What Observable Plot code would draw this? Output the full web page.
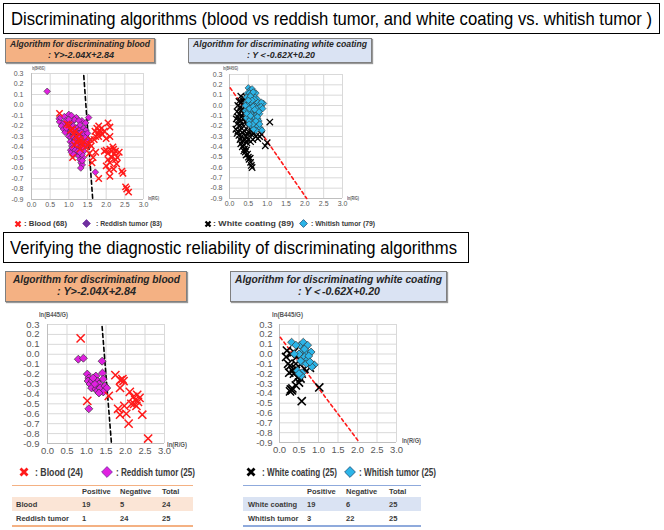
<!DOCTYPE html>
<html><head><meta charset="utf-8">
<script src="https://cdn.jsdelivr.net/npm/d3@7"></script>
<script src="https://cdn.jsdelivr.net/npm/@observablehq/plot@0.6"></script>
<style>
body{margin:0;background:#fff;}
#page{position:relative;width:664px;height:530px;overflow:hidden;font-family:"Liberation Sans",Arial,sans-serif;}
.t{position:absolute;white-space:nowrap;transform-origin:0 50%;}
.b{position:absolute;box-sizing:border-box;}
</style></head><body><div id="page"></div>
<script>
// ---------- DATA ----------
const xTicks = [0, 0.5, 1, 1.5, 2, 2.5, 3];
const yTicks = [0.3, 0.2, 0.1, 0, -0.1, -0.2, -0.3, -0.4, -0.5, -0.6, -0.7, -0.8, -0.9];

// Training set: blood (68) vs reddish tumor (83)
const bloodTrain = [
 [0.75,-0.08],[0.95,-0.18],[1.0,-0.19],[1.05,-0.24],[1.1,-0.23],[1.13,-0.28],[1.17,-0.25],[1.2,-0.3],[1.25,-0.33],[1.28,-0.28],
 [1.32,-0.34],[1.36,-0.38],[1.4,-0.35],[1.45,-0.4],[1.5,-0.38],[1.55,-0.37],[1.6,-0.39],[1.58,-0.33],[1.15,-0.38],[1.22,-0.36],
 [1.1,-0.5],[1.3,-0.42],
 [1.7,-0.25],[1.75,-0.22],[1.78,-0.27],[1.8,-0.2],[1.82,-0.24],[1.85,-0.26],[1.88,-0.22],[1.9,-0.28],[1.8,-0.3],[1.72,-0.3],
 [1.95,-0.25],[2.05,-0.17],[2.1,-0.21],[2.1,-0.3],[1.68,-0.33],[2.0,-0.32],
 [1.55,-0.46],[1.65,-0.5],[1.72,-0.45],[1.8,-0.7],[1.62,-0.55],
 [1.95,-0.44],[2.0,-0.43],[2.05,-0.46],[2.1,-0.42],[2.15,-0.44],[2.2,-0.42],[2.22,-0.46],[2.18,-0.4],[2.25,-0.44],[2.35,-0.45],
 [2.05,-0.52],[2.1,-0.55],[2.15,-0.5],[2.25,-0.52],[2.28,-0.56],[2.0,-0.58],[2.08,-0.62],[2.2,-0.61],[2.1,-0.68],[2.3,-0.5],
 [2.42,-0.63],[2.45,-0.65],[2.52,-0.78],[2.55,-0.8],[2.6,-0.83]
];
const reddishTrain = [
 [0.42,0.13],[1.71,-0.64],
 [0.74,-0.13],[0.75,-0.16],[0.78,-0.12],[0.84,-0.18],[0.88,-0.11],[0.92,-0.15],[1.0,-0.09],[1.07,-0.1],[1.2,-0.12],[1.35,-0.15],
 [1.53,-0.12],[0.96,-0.2],[1.02,-0.18],[1.1,-0.16],[1.15,-0.14],
 [0.98,-0.21],[1.05,-0.22],[1.12,-0.2],[1.18,-0.22],[1.25,-0.21],[1.3,-0.23],[1.4,-0.22],[1.46,-0.24],
 [0.95,-0.25],[1.02,-0.26],[1.08,-0.25],[1.14,-0.27],[1.2,-0.26],[1.27,-0.27],[1.34,-0.26],[1.42,-0.28],[1.5,-0.27],
 [1.0,-0.3],[1.06,-0.31],[1.12,-0.3],[1.18,-0.32],[1.24,-0.3],[1.3,-0.31],[1.36,-0.32],[1.44,-0.31],[1.52,-0.33],
 [1.04,-0.35],[1.1,-0.36],[1.16,-0.35],[1.22,-0.37],[1.28,-0.35],[1.34,-0.36],[1.41,-0.37],[1.48,-0.35],
 [1.08,-0.39],[1.15,-0.4],[1.21,-0.39],[1.27,-0.41],[1.33,-0.4],[1.45,-0.39],
 [1.05,-0.43],[1.07,-0.45],[1.1,-0.41],[1.2,-0.46],[1.25,-0.48],[1.3,-0.52],[1.33,-0.55],[1.36,-0.57],[1.38,-0.5],[1.4,-0.44],
 [1.38,-0.4],[1.35,-0.47],
 [0.8,-0.2],[0.86,-0.23],[0.9,-0.26],[0.93,-0.22],[1.0,-0.14],[1.27,-0.15],[1.3,-0.19],[1.45,-0.17],[1.17,-0.43],[1.24,-0.44],
 [1.13,-0.47],[1.29,-0.45],[1.36,-0.53],[1.32,-0.6]
];
// Training set: white coating (89) vs whitish tumor (79)
const whiteCoatTrain = [
 [0.3,0.09],[0.38,0.07],[0.25,0.04],[0.32,0.03],[0.4,0.02],[0.22,0.0],[0.28,-0.02],[0.35,-0.03],[0.45,-0.02],[0.5,0.05],
 [0.2,-0.06],[0.26,-0.08],[0.3,-0.05],[0.38,-0.07],[0.44,-0.09],[0.5,-0.08],[0.55,-0.1],[0.6,-0.07],[0.22,-0.11],[0.33,-0.1],
 [0.18,-0.13],[0.24,-0.14],[0.3,-0.15],[0.36,-0.13],[0.42,-0.16],[0.48,-0.14],[0.54,-0.17],[0.6,-0.15],[0.66,-0.18],[0.2,-0.18],
 [0.28,-0.19],[0.38,-0.2],[0.5,-0.2],[0.58,-0.21],
 [0.17,-0.23],[0.22,-0.25],[0.28,-0.24],[0.34,-0.26],[0.4,-0.25],[0.46,-0.27],[0.52,-0.26],[0.58,-0.28],[0.65,-0.27],[0.25,-0.29],
 [0.32,-0.3],[0.44,-0.3],[0.7,-0.3],[0.2,-0.27],
 [0.28,-0.33],[0.35,-0.34],[0.42,-0.33],[0.5,-0.33],[0.56,-0.35],[0.62,-0.33],[0.75,-0.32],[0.8,-0.3],[0.3,-0.37],[0.38,-0.38],
 [0.46,-0.36],[0.34,-0.4],[0.4,-0.42],
 [0.42,-0.45],[0.45,-0.43],[0.48,-0.47],[0.5,-0.5],[0.52,-0.52],[0.55,-0.51],[0.56,-0.55],[0.58,-0.58],[0.6,-0.6],[0.44,-0.48],
 [0.38,-0.44],
 [1.07,-0.16],[1.0,-0.36],[0.95,-0.39],[0.85,-0.28],
 [0.55,-0.02],[0.62,-0.12],[0.68,-0.2],[0.48,-0.05],[0.56,0.02],[0.7,-0.1],[0.45,0.08],[0.52,-0.12],[0.6,-0.25],[0.75,-0.22],
 [0.35,0.05],[0.42,-0.12],[0.26,-0.2]
];
const whitishTrain = [
 [0.5,0.17],[0.55,0.15],[0.6,0.16],[0.48,0.12],[0.53,0.12],[0.58,0.11],[0.65,0.13],[0.7,0.12],[0.62,0.09],[0.68,0.08],
 [0.45,0.08],[0.52,0.07],[0.57,0.06],[0.74,0.06],
 [0.45,0.03],[0.5,0.02],[0.55,0.03],[0.6,0.02],[0.65,0.04],[0.7,0.02],[0.75,0.03],[0.8,0.01],[0.9,0.02],[0.85,0.03],
 [0.48,-0.01],[0.58,-0.02],[0.68,-0.01],[0.78,-0.02],
 [0.42,-0.05],[0.5,-0.05],[0.55,-0.06],[0.62,-0.05],[0.7,-0.06],[0.76,-0.05],[0.82,-0.04],[0.6,-0.09],[0.66,-0.1],[0.72,-0.09],
 [0.5,-0.1],[0.8,-0.08],
 [0.45,-0.12],[0.55,-0.13],[0.62,-0.14],[0.68,-0.12],[0.75,-0.13],[0.58,-0.16],[0.65,-0.17],[0.72,-0.16],[0.78,-0.15],[0.52,-0.15],
 [0.6,-0.2],[0.68,-0.21],[0.75,-0.2],[0.82,-0.22],[0.86,-0.24],[0.7,-0.24],[0.64,-0.23],[0.55,-0.19],
 [0.47,0.0],[0.53,-0.03],[0.63,-0.01],[0.73,-0.03],[0.84,-0.01],[0.56,0.09],[0.66,0.06],[0.46,-0.08],[0.56,-0.1],[0.74,-0.11],
 [0.62,-0.18],[0.8,-0.18],[0.7,-0.15],[0.6,0.05],[0.5,0.05],[0.42,0.0],[0.88,-0.03],[0.78,-0.06],[0.52,-0.18],[0.67,-0.04],
 [0.63,0.13]
];
// Validation set: blood (24) vs reddish tumor (25)
const bloodTest = [
 [0.85,0.16],[1.02,-0.47],[1.57,-0.42],[1.74,-0.21],[1.87,-0.26],[1.92,-0.25],[1.95,-0.27],[1.86,-0.34],[1.81,-0.55],[1.86,-0.61],
 [1.97,-0.52],[2.02,-0.6],[2.08,-0.7],[2.11,-0.38],[2.15,-0.5],[2.2,-0.43],[2.25,-0.46],[2.3,-0.41],[2.32,-0.48],[2.36,-0.44],
 [2.28,-0.52],[2.22,-0.5],[2.43,-0.61],[2.58,-0.85]
];
const reddishTest = [
 [0.79,-0.05],[0.92,-0.04],[1.4,-0.07],
 [1.02,-0.2],[1.06,-0.24],[1.04,-0.27],[1.09,-0.3],[1.15,-0.27],[1.19,-0.33],[1.13,-0.34],[1.24,-0.22],[1.28,-0.27],[1.32,-0.3],
 [1.24,-0.35],[1.28,-0.37],[1.35,-0.34],[1.41,-0.19],[1.43,-0.25],[1.47,-0.32],[1.52,-0.34],[1.43,-0.38],[1.32,-0.39],[1.21,-0.3],
 [1.06,-0.55],[1.17,-0.24]
];
// Validation set: white coating (25) vs whitish tumor (25)
const whiteCoatTest = [
 [0.19,0.035],[0.17,-0.03],[0.29,0.0],[0.37,0.02],[0.27,-0.12],[0.25,-0.19],[0.33,-0.17],[0.42,-0.1],[0.44,-0.03],[0.37,-0.2],
 [0.46,-0.24],[0.5,-0.29],[0.42,-0.32],[0.54,-0.25],[0.57,-0.2],[0.64,-0.15],[0.78,-0.14],[0.29,-0.36],[0.32,-0.37],[0.27,-0.38],
 [0.33,-0.35],[1.02,-0.34],[0.57,-0.48],[0.42,-0.15],[0.22,-0.1]
];
const whitishTest = [
 [0.31,0.12],[0.53,0.09],[0.61,0.12],[0.67,0.07],[0.72,0.09],[0.58,0.02],[0.69,0.02],[0.81,0.02],[0.5,0.0],[0.64,-0.03],
 [0.71,-0.06],[0.58,-0.08],[0.69,-0.1],[0.89,-0.11],[0.83,-0.13],[0.46,-0.17],[0.58,-0.19],[0.38,0.0],[0.75,-0.02],[0.54,-0.07],
 [0.64,0.05],[0.56,-0.22],[0.5,-0.2],[0.78,-0.08],[0.42,0.09]
];
// Discriminating boundaries as drawn
const bloodBoundary = [[1.40,0.28],[1.64,-0.9]];
const whiteBoundary = [[0.02,0.17],[2.05,-0.9]];

// Tables
const tableHeader = ["Positive", "Negative", "Total"];
const bloodRows = ["Blood", "Reddish tumor"];
const bloodPositive = [19, 1];
const bloodNegative = [5, 24];
const bloodTotal = [24, 25];
const whiteRows = ["White coating", "Whitish tumor"];
const whitePositive = [19, 3];
const whiteNegative = [6, 22];
const whiteTotal = [25, 25];

// ---------- LAYOUT HELPERS ----------
const page = document.getElementById("page");
function txt(s, x, cy, size, o = {}) {
  const d = document.createElement("div");
  d.className = "t";
  d.textContent = s;
  d.style.fontSize = size + "px";
  d.style.lineHeight = Math.round(size * 1.2) + "px";
  d.style.top = (cy - size * 0.6) + "px";
  d.style.fontWeight = o.weight || "normal";
  d.style.fontStyle = o.style || "normal";
  d.style.color = o.color || "#000";
  if (o.family) d.style.fontFamily = o.family;
  page.appendChild(d);
  const w0 = d.getBoundingClientRect().width;
  let w = w0;
  if (o.w) { d.style.transform = `scaleX(${o.w / w0})`; w = o.w; }
  d.style.left = (o.center ? x - w / 2 : x) + "px";
  return d;
}
function box(x, y, w, h, style) {
  const d = document.createElement("div");
  d.className = "b";
  Object.assign(d.style, {left: x + "px", top: y + "px", width: w + "px", height: h + "px"}, style);
  page.appendChild(d);
  return d;
}
function svgSym(kind, x, cy, size, fill, stroke) {
  const ns = "http://www.w3.org/2000/svg";
  const s = document.createElementNS(ns, "svg");
  s.setAttribute("width", size); s.setAttribute("height", size);
  s.style.position = "absolute"; s.style.left = x + "px"; s.style.top = (cy - size / 2) + "px";
  const h = size / 2;
  if (kind === "x") {
    const p = document.createElementNS(ns, "path");
    p.setAttribute("d", `M1.5,1.5L${size-1.5},${size-1.5}M${size-1.5},1.5L1.5,${size-1.5}`);
    p.setAttribute("stroke", stroke); p.setAttribute("stroke-width", size * 0.28); p.setAttribute("fill", "none");
    s.appendChild(p);
  } else {
    const p = document.createElementNS(ns, "path");
    p.setAttribute("d", `M${h},0.6L${size-0.6},${h}L${h},${size-0.6}L0.6,${h}Z`);
    p.setAttribute("fill", fill); p.setAttribute("stroke", stroke); p.setAttribute("stroke-width", 0.8);
    s.appendChild(p);
  }
  page.appendChild(s);
}

const fmt = d => d.toFixed(1);
function scatter(cfg) {
  const svg = Plot.plot({
    width: cfg.width, height: cfg.height,
    marginLeft: cfg.ml, marginRight: cfg.mr, marginTop: cfg.mt, marginBottom: cfg.mb,
    x: {domain: [0, 3]},
    y: {domain: [-0.9, 0.3]},
    style: {fontFamily: '"Liberation Sans", Arial, sans-serif', fontSize: cfg.fs + "px", color: "#595959", background: "transparent", overflow: "visible"},
    marks: [
      Plot.gridX(xTicks, {stroke: "#d9d9d9", strokeOpacity: 1}),
      Plot.gridY(yTicks, {stroke: "#d9d9d9", strokeOpacity: 1}),
      Plot.ruleX([0], {stroke: "#bfbfbf"}),
      Plot.ruleY([-0.9], {stroke: "#bfbfbf"}),
      Plot.axisX(xTicks, {tickSize: 0, tickPadding: cfg.xpad, tickFormat: fmt, label: null}),
      Plot.axisY(yTicks, {tickSize: 0, tickPadding: cfg.ypad, tickFormat: fmt, label: null}),
      Plot.line(cfg.boundary, {x: d => d[0], y: d => d[1], stroke: cfg.bStroke, strokeWidth: 1.6, strokeDasharray: cfg.bDash}),
      ...cfg.series.map(s => Plot.dot(s.data, {x: d => d[0], y: d => d[1], symbol: s.symbol, r: s.r, fill: s.fill, stroke: s.stroke, strokeWidth: s.sw}))
    ]
  });
  svg.style.position = "absolute";
  svg.style.left = cfg.left + "px";
  svg.style.top = cfg.top + "px";
  page.appendChild(svg);
}

const RED = "#ff1a1a", MAG = "#e020e0", BLUE = "#2cb5e8", OUT = "#333";
const TXT = "#262626", LEG = "#3a3a3a";

// ---------- TITLES ----------
box(3, 3, 657, 31, {border: "1.5px solid #000", background: "#fff"});
txt("Discriminating algorithms (blood vs reddish tumor, and white coating vs. whitish tumor )", 11, 18.5, 19, {w: 641});

box(5, 38, 150, 25, {background: "#f4b183", border: "1px solid #7f7f7f", boxShadow: "1px 1px 1px #999"});
txt("Algorithm for discriminating blood", 80, 44.5, 9, {w: 140, center: true, weight: "bold", style: "italic", color: TXT});
txt(": Y>-2.04X+2.84", 81, 55, 9, {w: 66, center: true, weight: "bold", style: "italic", color: TXT});

box(188, 38, 184, 25, {background: "#dae3f3", border: "1px solid #7f7f7f", boxShadow: "1px 1px 1px #999"});
txt("Algorithm for discriminating white coating", 280, 44.5, 9, {w: 174, center: true, weight: "bold", style: "italic", color: TXT});
txt(": Y＜-0.62X+0.20", 281, 55, 9, {w: 68, center: true, weight: "bold", style: "italic", color: TXT});

// ---------- TOP SCATTERS ----------
scatter({left: 0, top: 62, width: 175, height: 150, ml: 31, mr: 32, mt: 11, mb: 13, fs: 7, xpad: 3, ypad: 8,
  boundary: bloodBoundary, bStroke: "#000", bDash: "4,3",
  series: [
    {data: reddishTrain, symbol: "diamond2", r: 3, fill: MAG, stroke: OUT, sw: 0.6},
    {data: bloodTrain, symbol: "times", r: 3, fill: "none", stroke: RED, sw: 1.5}
  ]});
txt("ln(B445/G)", 32, 68, 5, {w: 13, weight: "bold", color: "#595959"});
txt("ln(R/G)", 148, 198, 5, {w: 11, weight: "bold", color: "#595959"});

scatter({left: 195, top: 62, width: 175, height: 150, ml: 34, mr: 28, mt: 12, mb: 14, fs: 7, xpad: 3, ypad: 7,
  boundary: whiteBoundary, bStroke: RED, bDash: "3,3",
  series: [
    {data: whiteCoatTrain, symbol: "times", r: 3, fill: "none", stroke: "#000", sw: 1.3},
    {data: whitishTrain, symbol: "diamond2", r: 3, fill: BLUE, stroke: OUT, sw: 0.6}
  ]});
txt("ln(B445/G)", 223, 68, 5, {w: 15, weight: "bold", color: "#595959"});
txt("ln(R/G)", 347, 198, 5, {w: 12, weight: "bold", color: "#595959"});

// ---------- LEGEND 1 ----------
svgSym("x", 14, 224, 8, null, RED);
txt(": Blood (68)", 24, 224, 7, {w: 43, weight: "bold", color: LEG});
svgSym("d", 82, 223.5, 9, "#7030a0", "#7030a0");
txt(": Reddish tumor (83)", 96, 224, 7, {w: 66, weight: "bold", color: LEG});
svgSym("x", 204, 224, 8, null, "#000");
txt(": White coating (89)", 213, 224, 7, {w: 81, weight: "bold", color: LEG});
svgSym("d", 299, 223.5, 9, BLUE, "#1f4e79");
txt(": Whitish tumor (79)", 311, 224, 7, {w: 64, weight: "bold", color: LEG});

// ---------- SECOND TITLE ----------
box(3, 232, 466, 31, {border: "1.5px solid #000", background: "#fff"});
txt("Verifying the diagnostic reliability of discriminating algorithms", 10, 247.5, 19, {w: 447});

box(5, 271, 182, 31, {background: "#f4b183", border: "1px solid #7f7f7f", boxShadow: "1px 1px 1px #999"});
txt("Algorithm for discriminating blood", 96.5, 279.5, 11, {w: 167, center: true, weight: "bold", style: "italic", color: TXT});
txt(": Y>-2.04X+2.84", 96.5, 292, 11, {w: 79, center: true, weight: "bold", style: "italic", color: TXT});

box(230, 271, 217, 31, {background: "#dae3f3", border: "1px solid #7f7f7f", boxShadow: "1px 1px 1px #999"});
txt("Algorithm for discriminating white coating", 338.5, 279.5, 11, {w: 207, center: true, weight: "bold", style: "italic", color: TXT});
txt(": Y＜-0.62X+0.20", 339, 292, 11, {w: 82, center: true, weight: "bold", style: "italic", color: TXT});

// ---------- BOTTOM SCATTERS ----------
scatter({left: 0, top: 310, width: 200, height: 150, ml: 47, mr: 36, mt: 14, mb: 17, fs: 9.5, xpad: 4, ypad: 8,
  boundary: bloodBoundary, bStroke: "#000", bDash: "4,3",
  series: [
    {data: reddishTest, symbol: "diamond2", r: 3.6, fill: MAG, stroke: OUT, sw: 0.7},
    {data: bloodTest, symbol: "times", r: 3.8, fill: "none", stroke: RED, sw: 1.5}
  ]});
txt("ln(B445/G)", 39, 315, 7, {w: 29, weight: "bold", color: "#595959"});
txt("ln(R/G)", 167, 445, 7, {w: 20, weight: "bold", color: "#595959"});

scatter({left: 230, top: 310, width: 200, height: 150, ml: 49, mr: 34, mt: 14, mb: 18, fs: 9.5, xpad: 4, ypad: 7,
  boundary: whiteBoundary, bStroke: RED, bDash: "3,3",
  series: [
    {data: whiteCoatTest, symbol: "times", r: 3.8, fill: "none", stroke: "#000", sw: 1.6},
    {data: whitishTest, symbol: "diamond2", r: 3.6, fill: BLUE, stroke: OUT, sw: 0.7}
  ]});
txt("ln(B445/G)", 272, 315, 7, {w: 31, weight: "bold", color: "#595959"});
txt("ln(R/G)", 402, 441, 7, {w: 19, weight: "bold", color: "#595959"});

// ---------- LEGEND 2 ----------
svgSym("x", 19, 472, 10, null, RED);
txt(": Blood  (24)", 35, 472.5, 11, {w: 48, weight: "bold", color: LEG});
svgSym("d", 101, 472, 12, MAG, "#7030a0");
txt(": Reddish tumor (25)", 116, 472.5, 11, {w: 79, weight: "bold", color: LEG});
svgSym("x", 246, 472, 10, null, "#000");
txt(": White coating (25)", 262, 472.5, 11, {w: 75, weight: "bold", color: LEG});
svgSym("d", 344, 472, 12, BLUE, "#1f4e79");
txt(": Whitish tumor (25)", 359, 472.5, 11, {w: 77, weight: "bold", color: LEG});

// ---------- TABLES ----------
function table(x0, x1, labelX, colX, rows, pos, neg, tot, line, band) {
  box(x0, 497, x1 - x0, 14, {background: band});
  box(x0, 484.5, x1 - x0, 1.5, {background: line});
  box(x0, 525, x1 - x0, 1.5, {background: line});
  tableHeader.forEach((h, i) => txt(h, colX[i], 491, 7.5, {weight: "bold", color: LEG}));
  rows.forEach((r, j) => {
    const cy = j === 0 ? 504 : 518;
    txt(r, labelX, cy, 7.5, {weight: "bold", color: LEG});
    [pos[j], neg[j], tot[j]].forEach((v, i) => txt(String(v), colX[i], cy, 7.5, {weight: "bold", color: LEG}));
  });
}
table(12, 193, 16, [82, 120, 162], bloodRows, bloodPositive, bloodNegative, bloodTotal, "#f4b183", "#fbe5d6");
table(243, 421, 248, [307, 346, 389], whiteRows, whitePositive, whiteNegative, whiteTotal, "#8faadc", "#dae3f3");
</script></body></html>
